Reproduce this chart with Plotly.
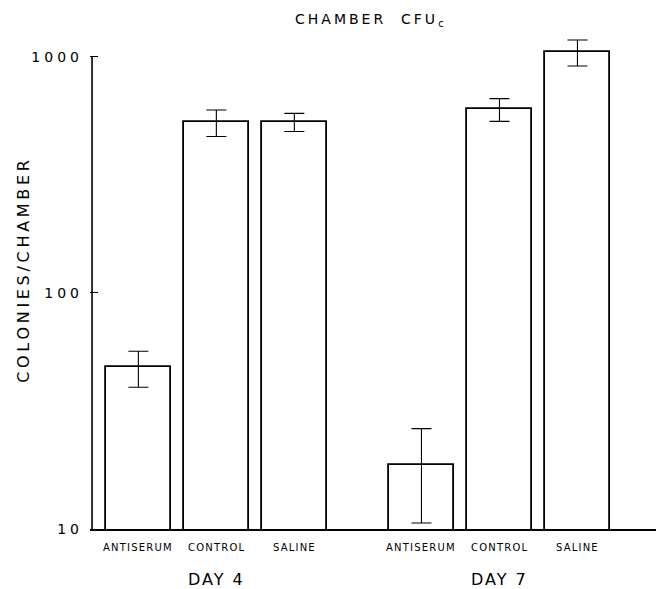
import plotly.graph_objects as go

# ---- data ----
days = ["DAY 4", "DAY 7"]
treatments = ["ANTISERUM", "CONTROL", "SALINE"]
day4_mean = [48.4, 530, 530]
day4_high = [56.6, 594, 575]
day4_low = [39.8, 459, 482]
day7_mean = [18.7, 598, 1050]
day7_high = [26.6, 664, 1176]
day7_low = [10.6, 532, 912]
y_tickvals = [10, 100, 1000]
y_ticktext = ["10", "100", "1000"]

means = [day4_mean, day7_mean]
highs = [day4_high, day7_high]
lows = [day4_low, day7_low]

GROUP_STEP = 3.63
FONT = "DejaVu Sans"


def spaced(t, px):
    return '<span style="letter-spacing:%spx">%s</span>' % (px, t)


fig = go.Figure()
xs, ys, eplus, eminus = [], [], [], []
for g in range(len(days)):
    for i in range(len(treatments)):
        xs.append(g * GROUP_STEP + i)
        ys.append(means[g][i])
        eplus.append(highs[g][i] - means[g][i])
        eminus.append(means[g][i] - lows[g][i])

fig.add_trace(go.Bar(
    x=xs, y=ys, width=0.827,
    marker=dict(color="white", line=dict(color="black", width=1.8)),
    error_y=dict(type="data", symmetric=False, array=eplus, arrayminus=eminus,
                 color="black", thickness=1.1, width=10),
    showlegend=False, hoverinfo="y",
))

# y axis line from 10 to 1000
x_axis_pos = -0.594
fig.add_trace(go.Scatter(
    x=[x_axis_pos, x_axis_pos], y=[y_tickvals[0], y_tickvals[-1]],
    mode="lines", line=dict(color="black", width=1.6),
    showlegend=False, hoverinfo="skip",
))

annotations = []
for g in range(len(days)):
    for i, t in enumerate(treatments):
        annotations.append(dict(
            x=g * GROUP_STEP + i, y=0, xref="x", yref="paper",
            text=spaced(t, 1.2), showarrow=False, yanchor="middle",
            yshift=-18, font=dict(family=FONT, size=10, color="black")))
    annotations.append(dict(
        x=g * GROUP_STEP + 1, y=0, xref="x", yref="paper",
        text=spaced(days[g], 2), showarrow=False, yanchor="middle",
        yshift=-50, font=dict(family=FONT, size=16, color="black")))

annotations.append(dict(
    x=-0.1166, y=0.5226, xref="paper", yref="paper",
    text=spaced("COLONIES/CHAMBER", 3.7), textangle=-90, showarrow=False,
    xanchor="center", yanchor="middle",
    font=dict(family=FONT, size=16, color="black")))

annotations.append(dict(
    x=0.4965, y=1.026, xref="paper", yref="paper",
    text=spaced("CHAMBER  CFU<sub>c</sub>", 3), showarrow=False,
    xanchor="center", yanchor="middle",
    font=dict(family=FONT, size=14, color="black")))

fig.update_layout(
    width=656, height=589,
    margin=dict(l=90, r=0, t=33, b=60),
    paper_bgcolor="white", plot_bgcolor="white",
    bargap=0,
    xaxis=dict(range=[-0.62, 6.637], showgrid=False, zeroline=False,
               showticklabels=False, ticks="", showline=True,
               linecolor="black", linewidth=1.6),
    yaxis=dict(type="log", range=[1, 3.1], showgrid=False, zeroline=False,
               showline=False, tickvals=y_tickvals,
               ticktext=[spaced(t, 4) for t in y_ticktext],
               ticks="inside", ticklen=8, tickcolor="black", tickwidth=1.2,
               ticklabelstandoff=6,
               tickfont=dict(family=FONT, size=14, color="black")),
    annotations=annotations,
)

fig.write_html(
    "out.html",
    config={"displayModeBar": False},
    post_script="document.body.style.margin='0';document.body.style.overflow='hidden';",
)
